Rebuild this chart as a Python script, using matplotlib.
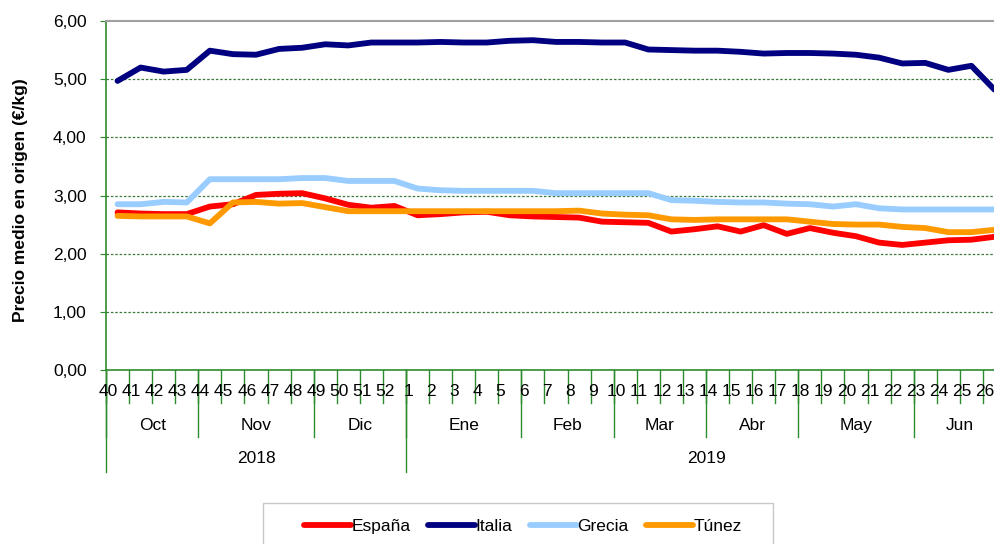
import matplotlib
matplotlib.use("Agg")
import matplotlib.pyplot as plt
from matplotlib.patches import Rectangle

plt.rcParams["font.family"] = ["Liberation Sans", "DejaVu Sans"]

# semanas (2018: 40-52, 2019: 1-26)
weeks = ["40", "41", "42", "43", "44", "45", "46", "47", "48", "49", "50", "51", "52",
         "1", "2", "3", "4", "5", "6", "7", "8", "9", "10", "11", "12", "13",
         "14", "15", "16", "17", "18", "19", "20", "21", "22", "23", "24", "25", "26"]
months = ["Oct", "Nov", "Dic", "Ene", "Feb", "Mar", "Abr", "May", "Jun"]
month_weeks = [4, 5, 4, 5, 4, 4, 4, 5, 4]
years = ["2018", "2019"]
year_weeks = [13, 26]

espana = [2.71, 2.69, 2.68, 2.68, 2.81, 2.85, 3.01, 3.03, 3.04, 2.95, 2.84, 2.79, 2.82,
          2.66, 2.68, 2.71, 2.72, 2.66, 2.64, 2.63, 2.62, 2.55, 2.54, 2.53, 2.38, 2.42,
          2.47, 2.38, 2.49, 2.34, 2.44, 2.36, 2.30, 2.19, 2.15, 2.19, 2.23, 2.24, 2.29]
italia = [4.97, 5.20, 5.13, 5.16, 5.49, 5.43, 5.42, 5.52, 5.54, 5.60, 5.58, 5.63, 5.63,
          5.63, 5.64, 5.63, 5.63, 5.66, 5.67, 5.64, 5.64, 5.63, 5.63, 5.51, 5.50, 5.49,
          5.49, 5.47, 5.44, 5.45, 5.45, 5.44, 5.42, 5.37, 5.27, 5.28, 5.16, 5.23, 4.82]
grecia = [2.85, 2.85, 2.89, 2.88, 3.28, 3.28, 3.28, 3.28, 3.30, 3.30, 3.25, 3.25, 3.25,
          3.12, 3.09, 3.08, 3.08, 3.08, 3.08, 3.04, 3.04, 3.04, 3.04, 3.04, 2.92, 2.91,
          2.89, 2.88, 2.88, 2.86, 2.85, 2.81, 2.85, 2.78, 2.76, 2.76, 2.76, 2.76, 2.76]
tunez = [2.65, 2.64, 2.64, 2.64, 2.52, 2.88, 2.89, 2.86, 2.87, 2.80, 2.73, 2.73, 2.73,
         2.73, 2.73, 2.73, 2.73, 2.73, 2.73, 2.73, 2.74, 2.69, 2.67, 2.66, 2.59, 2.58,
         2.59, 2.59, 2.59, 2.59, 2.55, 2.51, 2.50, 2.50, 2.46, 2.44, 2.37, 2.37, 2.41]

series = [("España", espana, "#FF0000"),
          ("Italia", italia, "#000080"),
          ("Grecia", grecia, "#99CCFF"),
          ("Túnez", tunez, "#FF9900")]

GREEN = "#2E8B2E"
FS = 12.5
W, H = 995, 544

fig = plt.figure(figsize=(W / 100, H / 100), dpi=100)
# el area de trazado sigue mas alla del borde derecho de la imagen
ax = fig.add_axes([106 / W, 1 - 370 / H, 900 / W, 349 / H])

x = list(range(len(weeks)))
for name, vals, col in series:
    ax.plot(x, vals, color=col, lw=4.2, label=name,
            solid_joinstyle="round", solid_capstyle="round")

ax.set_xlim(-0.5, len(weeks) - 0.5)
ax.set_ylim(0, 6)
ax.set_yticks([0, 1, 2, 3, 4, 5, 6])
ax.set_yticklabels([f"{v:.2f}".replace(".", ",") for v in range(7)], fontsize=FS)
ax.tick_params(axis="y", length=4, color=GREEN, pad=10)
for v in range(1, 6):
    ax.axhline(v, color="#3C7A3C", lw=0.9, ls=(0, (2, 1.5)), zorder=0)

for s in ["left", "bottom"]:
    ax.spines[s].set_color(GREEN)
    ax.spines[s].set_linewidth(1.2)
ax.spines["top"].set_color("#A0A0A0")
ax.spines["top"].set_linewidth(1.5)
ax.spines["right"].set_visible(False)

# eje x jerarquico: semana / mes / año
ax.set_xticks([])
trans = ax.get_xaxis_transform()
for i, w in enumerate(weeks):
    ax.plot([i - 0.5, i - 0.5], [0, -0.095], transform=trans, color=GREEN,
            lw=1, clip_on=False)
    ax.text(i - 0.4, -0.063, w, transform=trans, ha="center",
            va="center", fontsize=FS)

start = 0
for m, n in zip(months, month_weeks):
    ax.plot([start - 0.5, start - 0.5], [0, -0.192], transform=trans,
            color=GREEN, lw=1, clip_on=False)
    ax.text(start + n / 2 - 0.5, -0.16, m, transform=trans, ha="center",
            va="center", fontsize=FS)
    start += n

start = 0
for yname, n in zip(years, year_weeks):
    ax.plot([start - 0.5, start - 0.5], [0, -0.292], transform=trans,
            color=GREEN, lw=1, clip_on=False)
    ax.text(start + n / 2 - 0.5, -0.255, yname, transform=trans, ha="center",
            va="center", fontsize=FS)
    start += n

fig.text(21 / W, 1 - 200 / H, "Precio medio en origen (€/kg)", rotation=90,
         ha="center", va="center", fontsize=FS, fontweight="bold")

# leyenda con marco cortado por el borde inferior
fig.add_artist(Rectangle((263 / W, -0.05), 510 / W, 0.05 + 1 - 503 / H,
                         transform=fig.transFigure, fill=False,
                         edgecolor="#C8C8C8", lw=1))
fig.legend(loc="center", bbox_to_anchor=(523 / W, 1 - 526 / H), ncol=4,
           frameon=False, fontsize=FS, handlelength=2.7, handletextpad=0.05,
           columnspacing=1.0)

fig.savefig("out.png", dpi=100)
